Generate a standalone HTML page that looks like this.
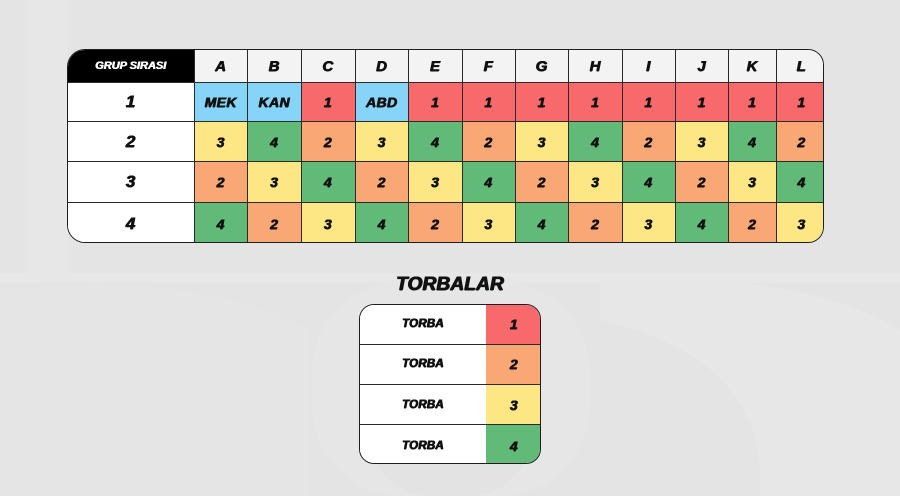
<!DOCTYPE html>
<html><head><meta charset="utf-8">
<style>
html,body{margin:0;padding:0}
body{width:900px;height:496px;overflow:hidden;background:#e4e4e4;position:relative;font-family:"Liberation Sans",Arial,sans-serif}
.bg{position:absolute;left:0;top:0}
.t{position:absolute;left:67px;top:49px;width:757px;height:194px;border:1.5px solid #1e1e1e;box-sizing:border-box;border-radius:18px 16px 16px 18px;overflow:hidden;background:#fff}
.c{position:absolute;box-sizing:border-box;border-right:1.5px solid #2a2a2a;border-bottom:1.5px solid #2a2a2a;display:flex;align-items:center;justify-content:center;font-style:italic;font-weight:bold;font-size:14px;color:#111;text-shadow:0.5px 0 0 #111,-0.4px 0 0 #111,0 0.4px 0 #111;letter-spacing:0.4px}
.h{background:#f3f3f3;font-size:15px}
.k{background:#000;color:#fff;text-shadow:0.4px 0 0 #fff,-0.3px 0 0 #fff;font-size:11px;letter-spacing:0}
.f{background:#fff;font-size:17px}
.R{background:#f7696b}.O{background:#f9a774}.Y{background:#fce784}.G{background:#61ba78}.B{background:#86d5f8}
.c0{left:0;width:126.5px}.cA{left:126.5px;width:53.5px}.cB{left:180px;width:53.5px}.cC{left:233.5px;width:54px}.cD{left:287.5px;width:53.5px}.cE{left:341px;width:53.5px}.cF{left:394.5px;width:53px}.cG{left:447.5px;width:53.5px}.cH{left:501px;width:53.5px}.cI{left:554.5px;width:53px}.cJ{left:607.5px;width:53.5px}.cK{left:661px;width:47.5px}.cL{left:708.5px;width:50px;border-right:none}
.r0{top:0;height:33px}.r1{top:33px;height:39px}.r2{top:72px;height:40px}.r3{top:112px;height:41px}.r4{top:153px;height:42px;border-bottom:none}
.ttl{position:absolute;left:350px;width:200px;top:271px;height:28px;line-height:28px;text-align:center;font-style:italic;font-weight:bold;font-size:19px;color:#111;text-shadow:0.7px 0 0 #111,-0.5px 0 0 #111,0 0.5px 0 #111;letter-spacing:0.2px}
.tb{position:absolute;left:359px;top:304px;width:182px;height:160px;border:1.5px solid #1e1e1e;box-sizing:border-box;border-radius:15px;overflow:hidden;background:#fff}
.l{left:0;width:126px;background:#fff;border-right:none;font-size:11.5px;letter-spacing:0.2px}
.n{left:126px;width:60px;border-right:none;font-size:14px;padding-right:4px}
.s0{top:0;height:39.5px}.s1{top:39.5px;height:40.5px}.s2{top:80px;height:40px}.s3{top:120px;height:42px;border-bottom:none}
</style></head>
<body>
<svg class="bg" width="900" height="496" viewBox="0 0 900 496">
<rect width="900" height="496" fill="#e4e4e4"/>
<rect x="28" y="0" width="40" height="273" fill="#e7e7e7"/>
<rect x="0" y="273" width="900" height="10" fill="#e7e7e7"/>
<path d="M0 290 Q 200 270 310 330 L 310 496 L 0 496 Z" fill="#e5e5e5"/>
<path d="M600 280 Q 800 270 900 330 L 900 496 L 760 496 Q 770 360 600 320 Z" fill="#e7e7e7"/>
<rect x="312" y="282" width="278" height="214" rx="90" fill="#e6e6e6"/>
<rect x="370" y="340" width="160" height="156" rx="60" fill="#e3e3e3"/>
</svg>

<div class="t">
<div class="c k c0 r0">GRUP SIRASI</div>
<div class="c h cA r0">A</div><div class="c h cB r0">B</div><div class="c h cC r0">C</div><div class="c h cD r0">D</div><div class="c h cE r0">E</div><div class="c h cF r0">F</div><div class="c h cG r0">G</div><div class="c h cH r0">H</div><div class="c h cI r0">I</div><div class="c h cJ r0">J</div><div class="c h cK r0">K</div><div class="c h cL r0">L</div>

<div class="c f c0 r1">1</div>
<div class="c B cA r1">MEK</div><div class="c B cB r1">KAN</div><div class="c R cC r1">1</div><div class="c B cD r1">ABD</div><div class="c R cE r1">1</div><div class="c R cF r1">1</div><div class="c R cG r1">1</div><div class="c R cH r1">1</div><div class="c R cI r1">1</div><div class="c R cJ r1">1</div><div class="c R cK r1">1</div><div class="c R cL r1">1</div>

<div class="c f c0 r2">2</div>
<div class="c Y cA r2">3</div><div class="c G cB r2">4</div><div class="c O cC r2">2</div><div class="c Y cD r2">3</div><div class="c G cE r2">4</div><div class="c O cF r2">2</div><div class="c Y cG r2">3</div><div class="c G cH r2">4</div><div class="c O cI r2">2</div><div class="c Y cJ r2">3</div><div class="c G cK r2">4</div><div class="c O cL r2">2</div>

<div class="c f c0 r3">3</div>
<div class="c O cA r3">2</div><div class="c Y cB r3">3</div><div class="c G cC r3">4</div><div class="c O cD r3">2</div><div class="c Y cE r3">3</div><div class="c G cF r3">4</div><div class="c O cG r3">2</div><div class="c Y cH r3">3</div><div class="c G cI r3">4</div><div class="c O cJ r3">2</div><div class="c Y cK r3">3</div><div class="c G cL r3">4</div>

<div class="c f c0 r4">4</div>
<div class="c G cA r4">4</div><div class="c O cB r4">2</div><div class="c Y cC r4">3</div><div class="c G cD r4">4</div><div class="c O cE r4">2</div><div class="c Y cF r4">3</div><div class="c G cG r4">4</div><div class="c O cH r4">2</div><div class="c Y cI r4">3</div><div class="c G cJ r4">4</div><div class="c O cK r4">2</div><div class="c Y cL r4">3</div>
</div>

<div class="ttl">TORBALAR</div>
<div class="tb">
<div class="c l s0">TORBA</div><div class="c n R s0">1</div>
<div class="c l s1">TORBA</div><div class="c n O s1">2</div>
<div class="c l s2">TORBA</div><div class="c n Y s2">3</div>
<div class="c l s3">TORBA</div><div class="c n G s3">4</div>
</div>
</body></html>
